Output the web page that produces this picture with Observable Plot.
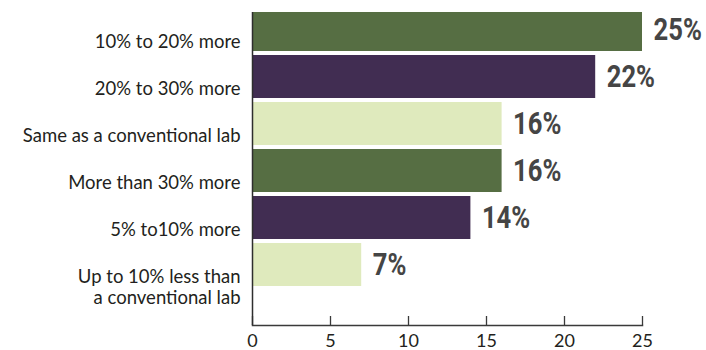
<!DOCTYPE html>
<html><head><meta charset="utf-8">
<script src="https://cdn.jsdelivr.net/npm/d3@7"></script>
<script src="https://cdn.jsdelivr.net/npm/@observablehq/plot@0.6"></script>
<style>body{margin:0;background:#fff}#chart svg{display:block}</style>
</head><body><div id="chart"></div>
<script>
const categories = [
  "10% to 20% more",
  "20% to 30% more",
  "Same as a conventional lab",
  "More than 30% more",
  "5% to10% more",
  "Up to 10% less than\na conventional lab"
];
const values = [25, 22, 16, 16, 14, 7];
const xTicks = [0, 5, 10, 15, 20, 25];
const palette = ["#566e43", "#412d52", "#dfeabd"];

const data = categories.map((c, i) => ({category: c, value: values[i], group: i % 3}));

const chart = Plot.plot({
  width: 706,
  height: 350,
  marginTop: 12,
  marginBottom: 25,
  marginLeft: 252,
  marginRight: 64,
  style: {fontFamily: "Lato, 'Open Sans', sans-serif", background: "#fff", color: "#231f20"},
  x: {domain: [0, 25], axis: null, label: null},
  y: {domain: categories, range: [4.1, 290.9], paddingInner: 0.08, paddingOuter: 0.04, axis: null, label: null},
  color: {domain: [0, 1, 2], range: palette},
  marks: [
    Plot.barX(data, {y: "category", x: "value", fill: "group", clip: "frame"}),
    Plot.text(data, {
      y: "category", x: "value", text: d => d.value + "%",
      textAnchor: "start", dx: 11, fontSize: 30.5, fontWeight: "bold",
      fontFamily: "Roboto, sans-serif",
      fill: "#454545", className: "vlabels"
    }),
    Plot.axisY({label: null, tickSize: 0, tickPadding: 12, lineAnchor: "top", dy: 4, lineHeight: 1.1, fontSize: 18.5, fill: "#231f20"}),
    Plot.axisX({label: null, ticks: xTicks, tickSize: 0, tickPadding: 9, fontSize: 18, fill: "#231f20"}),
    Plot.ruleX(xTicks, {insetTop: 304, stroke: "#3a3a3a", strokeWidth: 1.3}),
    Plot.ruleX([0], {stroke: "#2e2e2e", strokeWidth: 1.5}),
    Plot.frame({anchor: "bottom", stroke: "#3a3a3a", strokeWidth: 1.5})
  ]
});
document.getElementById("chart").appendChild(chart);
// condense the bold value labels horizontally to mimic a condensed typeface
d3.select(chart).selectAll(".vlabels text").each(function() {
  const t = this.getAttribute("transform") || "";
  this.setAttribute("transform", t + " scale(0.84,1)");
});
</script>
</body></html>
